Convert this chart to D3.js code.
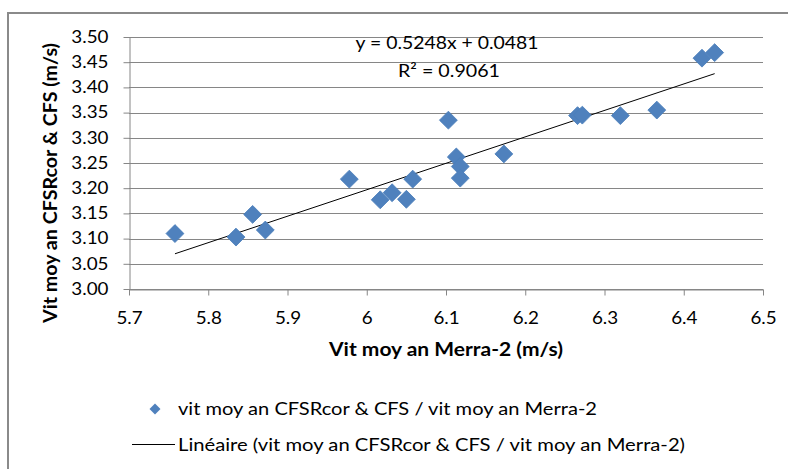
<!DOCTYPE html>
<html><head><meta charset="utf-8">
<script src="https://cdn.jsdelivr.net/npm/d3@7"></script>
<style>
body{margin:0;background:#fff}
svg{display:block}
text{font-family:Lato,"Open Sans",sans-serif;fill:#000}
</style>
</head><body>
<svg id="chart" width="788" height="469"></svg>
<script>
// ---- data ----
const merra2  = [5.758,5.835,5.856,5.872,5.978,6.017,6.032,6.050,6.058,6.103,6.113,6.118,6.118,6.173,6.266,6.272,6.320,6.366,6.423,6.439];
const cfsrCfs = [3.110,3.103,3.148,3.117,3.218,3.177,3.191,3.178,3.218,3.335,3.262,3.243,3.220,3.268,3.344,3.345,3.344,3.355,3.458,3.469];
const xTicks = [5.7,5.8,5.9,6.0,6.1,6.2,6.3,6.4,6.5];
const yTicks = [3.00,3.05,3.10,3.15,3.20,3.25,3.30,3.35,3.40,3.45,3.50];
const trendSlope = [0.5248];
const trendIntercept = [0.0481];
const rSquared = ["0.9061"];
const xTitle = ["Vit moy an Merra-2 (m/s)"];
const yTitle = ["Vit moy an CFSRcor & CFS (m/s)"];
const legendLabels = ["vit moy an CFSRcor & CFS / vit moy an Merra-2",
                      "Linéaire (vit moy an CFSRcor & CFS / vit moy an Merra-2)"];

// ---- layout ----
const svg = d3.select("#chart");
const L = 129, R = 763, T = 37, B = 289;
const gridColor = "#868686";
const blue = "#4F81BD";

function fit(sel, w){ sel.attr("textLength", w).attr("lengthAdjust","spacingAndGlyphs"); }

// outer frame
svg.append("rect").attr("x",8).attr("y",13).attr("width",800).attr("height",500)
  .attr("fill","#fff").attr("stroke","#8a8a8a").attr("stroke-width",2);

const x = d3.scaleLinear().domain([5.7,6.5]).range([L,R]);
const y = d3.scaleLinear().domain([3.0,3.5]).range([B,T]);

// gridlines
svg.append("g").selectAll("line").data(yTicks).join("line")
  .attr("x1",L).attr("x2",R).attr("y1",d=>Math.round(y(d))+0.5).attr("y2",d=>Math.round(y(d))+0.5)
  .attr("stroke",gridColor).attr("stroke-width",1);

// axes
const fmtY = d3.format(".2f");
const fmtX = d => (Math.abs(d-6)<1e-9 ? "6" : d3.format(".1f")(d));
const gx = svg.append("g").attr("transform",`translate(0,${B+0.5})`)
  .call(d3.axisBottom(x).tickValues(xTicks).tickFormat(fmtX).tickSize(6).tickSizeOuter(0).tickPadding(17));
const gy = svg.append("g").attr("transform",`translate(${L+0.5},0)`)
  .call(d3.axisLeft(y).tickValues(yTicks).tickFormat(fmtY).tickSize(6).tickSizeOuter(0).tickPadding(15));
[gx,gy].forEach(g=>{
  g.select(".domain").attr("stroke",gridColor);
  g.selectAll(".tick line").attr("stroke",gridColor);
  g.selectAll(".tick text").attr("font-size",16.5).attr("fill","#000")
    .style("font-family","Lato, 'Open Sans', sans-serif")
    .each(function(){ const w=this.getComputedTextLength(); d3.select(this).attr("textLength",w*1.14).attr("lengthAdjust","spacingAndGlyphs"); });
});
gx.selectAll(".tick text").attr("dy","0.71em");

// trend line
const xMin = d3.min(merra2), xMax = d3.max(merra2);
const trend = [xMin,xMax].map(v=>[v, trendIntercept[0]+trendSlope[0]*v]);
svg.append("path").datum(trend)
  .attr("d", d3.line().x(d=>x(d[0])).y(d=>y(d[1])))
  .attr("stroke","#000").attr("stroke-width",1).attr("fill","none");

// points (diamonds)
const diamond = d3.symbol().type(d3.symbolSquare).size(160);
svg.append("g").selectAll("path").data(merra2.map((v,i)=>[v,cfsrCfs[i]])).join("path")
  .attr("d",diamond)
  .attr("transform",d=>`translate(${x(d[0])},${y(d[1])}) rotate(45)`)
  .attr("fill",blue).attr("stroke","#4A7EBB").attr("stroke-width",0.8);

// equation
const eqX = 447;
svg.append("text").attr("x",eqX).attr("y",49).attr("text-anchor","middle").attr("font-size",17.5)
  .text(`y = ${trendSlope[0]}x + ${trendIntercept[0]}`).call(fit,183);
svg.append("text").attr("x",eqX+2).attr("y",77).attr("text-anchor","middle").attr("font-size",17.5)
  .text(`R² = ${rSquared[0]}`).call(fit,102);

// axis titles
svg.append("text").attr("x",446).attr("y",356).attr("text-anchor","middle")
  .attr("font-size",18).attr("font-weight","bold").text(xTitle[0]).call(fit,234);
svg.append("text").attr("transform","translate(57,183) rotate(-90)").attr("text-anchor","middle")
  .attr("font-size",18).attr("font-weight","bold").text(yTitle[0]).call(fit,280);

// legend
const lg = svg.append("g");
lg.append("path").attr("d",d3.symbol().type(d3.symbolSquare).size(60)())
  .attr("transform","translate(155,409) rotate(45)").attr("fill",blue);
lg.append("text").attr("x",178).attr("y",415).attr("font-size",18).text(legendLabels[0]).call(fit,419);
lg.append("line").attr("x1",132).attr("x2",175).attr("y1",444.5).attr("y2",444.5).attr("stroke","#000").attr("stroke-width",1);
lg.append("text").attr("x",178).attr("y",451).attr("font-size",18).text(legendLabels[1]).call(fit,507);
</script>
</body></html>
